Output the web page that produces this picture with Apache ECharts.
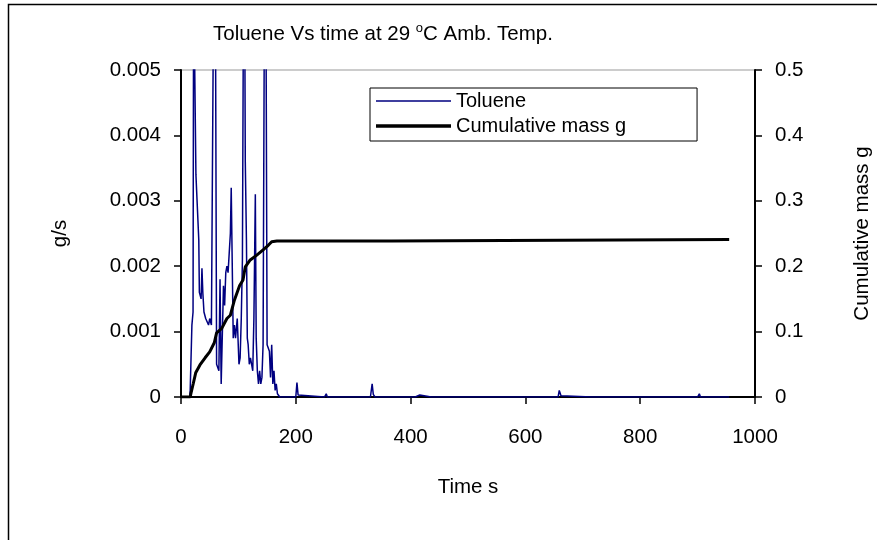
<!DOCTYPE html>
<html>
<head>
<meta charset="utf-8">
<script src="https://cdn.jsdelivr.net/npm/echarts@6/dist/echarts.min.js"></script>
<style>
html,body{margin:0;padding:0;background:#fff;}
#chart{width:877px;height:540px;}
</style>
</head>
<body>
<div id="chart"></div>
<script>
// Toluene emission rate (g/s) vs time (s)
var tolTime = [0,15,16,19,20,21,22,24,26,31,32,34,35,36.5,38,40,43,46,48,50,53,55,57,60,62,64,66,68,70,72,74,76,78,80,82,84,86,87.5,89,91,93,95,98,101,103,105,107,109,111,112,114,115.5,117,119,121,123,125,127,129.5,131,133,135,137,139,141,143,145.5,148,150,152,154,156,158,160,162,164,166,168,172,
  200,202,204,206,250,253,255,274,276,278,330,333,335,338,372,374,376,408,411,416,419,436,438,440,533,535,537,621,624,626,657,659,662,665,715,718,720,780,782,784,900,903,905,955];
var tolValue = [0,0,0.0001,0.0011,0.0012,0.0013,0.0065,0.0065,0.0034,0.0024,0.0016,0.0016,0.0015,0.00197,0.0016,0.0013,0.0012,0.0012,0.0011,0.0012,0.0011,0.0011,0.0065,0.006,0.0005,0.0005,0.0004,0.0018,0.0002,0.0002,0.0017,0.0014,0.0019,0.002,0.0019,0.0022,0.0025,0.0032,0.0022,0.0009,0.0011,0.0009,0.0012,0.0005,0.0006,0.0012,0.0021,0.0065,0.006,0.0036,0.0024,0.0009,0.0008,0.0005,0.0006,0.0005,0.0004,0.0012,0.0031,0.0009,0.0004,0.0002,0.0004,0.0002,0.0003,0.0008,0.0065,0.006,0.0008,0.0008,0.0007,0.0003,0.0008,0.0002,0.0004,0.0001,0.0002,0.00005,0,
  0,0.00022,0.00003,0,0,0.00005,0,0,0.00002,0,0,0.0002,0.00004,0,0,0.00002,0,0,0.00003,0.00003,0,0,0.00002,0,0,0.00002,0,0,0.00002,0,0,0.0001,0.00002,0,0,0.00003,0,0,0.00003,0,0,0.00005,0,0];
// Cumulative mass (g) vs time (s)
var cumTime = [0,16,17.4,21.5,25.6,33,42,50,58,62,71,80,86,93,102,108,112,120,132,143,152,158,167,367,369,955];
var cumValue = [0,0,0.006,0.021,0.037,0.049,0.06,0.069,0.083,0.098,0.105,0.12,0.125,0.148,0.17,0.179,0.199,0.209,0.217,0.225,0.232,0.2375,0.2385,0.2385,0.241,0.241];
var seriesNames = ['Toluene','Cumulative mass g'];

var tolData = tolTime.map(function(t,i){return [t, tolValue[i]];});
var cumData = cumTime.map(function(t,i){return [t, cumValue[i]];});

var FONT = 'Liberation Sans, Arial, sans-serif';
var FS = 20.5;
function bandIcon(th){
  var y0 = (14 - th)/2, y1 = y0 + th;
  return 'path://M0,0L0.01,0L0.01,0.01L0,0.01ZM0,'+y0+'L75,'+y0+'L75,'+y1+'L0,'+y1+'ZM0,13.99L0.01,13.99L0.01,14L0,14Z';
}
var chart = echarts.init(document.getElementById('chart'), null, {renderer:'canvas'});
chart.setOption({
  backgroundColor:'#fff',
  animation:false,
  textStyle:{fontFamily:FONT, color:'#000'},
  title:{
    text:'Toluene Vs time at 29 {sup|o}C Amb. Temp.',
    left:208, top:17,
    textStyle:{fontFamily:FONT, fontSize:FS, fontWeight:'normal', color:'#000',
      rich:{sup:{fontFamily:FONT, fontSize:13, verticalAlign:'top', padding:[0,0,12,0], color:'#000'}}}
  },
  graphic:[{type:'rect', shape:{x:8.5,y:4.5,width:900,height:600}, style:{fill:'none', stroke:'#000', lineWidth:1.5}, silent:true}],
  legend:{
    orient:'vertical', left:370, top:88,
    borderColor:'#000', borderWidth:1, borderRadius:0,
    padding:[3,71,5,6], itemGap:5, itemWidth:75, itemHeight:14,
    textStyle:{fontFamily:FONT, fontSize:20, color:'#000'},
    data:[
      {name:seriesNames[0], icon:bandIcon(1.5), itemStyle:{color:'#000080'}},
      {name:seriesNames[1], icon:bandIcon(3.5), itemStyle:{color:'#000'}}
    ]
  },
  grid:{left:181, right:122, top:70, bottom:143, containLabel:false, outerBoundsMode:'none',
    show:true, borderColor:'#999', borderWidth:1, backgroundColor:'transparent'},
  xAxis:{
    type:'value', min:0, max:1000, interval:200,
    name:'Time s', nameLocation:'middle', nameGap:80,
    nameTextStyle:{fontFamily:FONT, fontSize:FS, color:'#000'},
    axisLine:{show:true, onZero:false, lineStyle:{color:'#000', width:2}},
    axisTick:{show:true, inside:false, length:7, lineStyle:{color:'#000', width:1.5}},
    axisLabel:{fontFamily:FONT, fontSize:FS, color:'#000', margin:30, formatter:function(v){return String(v);}},
    splitLine:{show:false}
  },
  yAxis:[{
    type:'value', min:0, max:0.005, interval:0.001, position:'left',
    name:'g/s', nameLocation:'middle', nameGap:110, nameRotate:90,
    nameTextStyle:{fontFamily:FONT, fontSize:FS, color:'#000'},
    axisLine:{show:true, lineStyle:{color:'#000', width:2}},
    axisTick:{show:true, inside:false, length:7, lineStyle:{color:'#000', width:1.5}},
    axisLabel:{fontFamily:FONT, fontSize:FS, color:'#000', margin:20},
    splitLine:{show:false}
  },{
    type:'value', min:0, max:0.5, interval:0.1, position:'right',
    name:'Cumulative mass g', nameLocation:'middle', nameGap:97, nameRotate:90,
    nameTextStyle:{fontFamily:FONT, fontSize:FS, color:'#000'},
    axisLine:{show:true, lineStyle:{color:'#000', width:2}},
    axisTick:{show:true, inside:false, length:7, lineStyle:{color:'#000', width:1.5}},
    axisLabel:{fontFamily:FONT, fontSize:FS, color:'#000', margin:20},
    splitLine:{show:false}
  }],
  series:[{
    name:seriesNames[0], type:'line', yAxisIndex:0, data:tolData,
    symbol:'none', showSymbol:false, clip:true,
    lineStyle:{color:'#000080', width:1.5}, itemStyle:{color:'#000080'}
  },{
    name:seriesNames[1], type:'line', yAxisIndex:1, data:cumData,
    symbol:'none', showSymbol:false, clip:true,
    lineStyle:{color:'#000', width:3}, itemStyle:{color:'#000'}
  }]
});
</script>
</body>
</html>
